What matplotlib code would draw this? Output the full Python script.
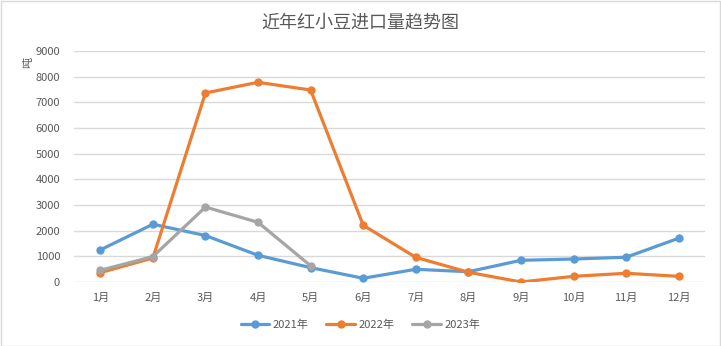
import matplotlib
matplotlib.use("Agg")
import matplotlib.pyplot as plt
from matplotlib.patches import Rectangle

plt.rcParams['font.family'] = ['Noto Sans CJK SC', 'DejaVu Sans']

months = ['1月', '2月', '3月', '4月', '5月', '6月', '7月', '8月', '9月', '10月', '11月', '12月']
y2021 = [1250, 2250, 1810, 1040, 560, 145, 495, 400, 845, 895, 965, 1705]
y2022 = [365, 935, 7365, 7780, 7480, 2210, 960, 380, 0, 220, 340, 220]
y2023 = [455, 990, 2920, 2325, 630]
series_names = ['2021年', '2022年', '2023年']
colors = ['#5B9BD5', '#ED7D31', '#A5A5A5']
yticks = list(range(0, 9001, 1000))

fig = plt.figure(figsize=(7.21, 3.46), dpi=100)
ax = fig.add_axes([74 / 721, 1 - 282 / 346, 631 / 721, 231 / 346])

x = list(range(len(months)))
for vals, name, c in zip([y2021, y2022, y2023], series_names, colors):
    ax.plot(x[:len(vals)], vals, color=c, lw=2.3, marker='o', ms=5,
            label=name, solid_capstyle='round', solid_joinstyle='round')

ax.set_xlim(-0.5, len(months) - 0.5)
ax.set_ylim(0, 9000)
ax.set_yticks(yticks)
ax.set_xticks(x)
ax.set_xticklabels(months)
ax.grid(axis='y', color='#D9D9D9', lw=1)
ax.set_axisbelow(True)
for s in ax.spines.values():
    s.set_visible(False)
ax.tick_params(axis='both', length=0, labelsize=8, labelcolor='#595959')
ax.tick_params(axis='y', pad=10)
ax.tick_params(axis='x', pad=8)

fig.text(28 / 721, 1 - 62 / 346, '吨', rotation=90, ha='center', va='center',
         fontsize=8, color='#595959')
fig.text(0.5, 1 - 22 / 346, '近年红小豆进口量趋势图', ha='center', va='center',
         fontsize=13, color='#595959')

leg = fig.legend(loc='center', bbox_to_anchor=(0.5, 1 - 325 / 346), ncol=3,
                 frameon=False, fontsize=8, handlelength=2.6, columnspacing=1.6,
                 handletextpad=0.3)
for t in leg.get_texts():
    t.set_color('#595959')

fig.patches.append(Rectangle((0.5 / 721, 0.5 / 346), 1 - 1.5 / 721, 1 - 1.5 / 346,
                             transform=fig.transFigure, fill=False,
                             edgecolor='#D9D9D9', lw=1))

fig.savefig('out.png', dpi=100)
